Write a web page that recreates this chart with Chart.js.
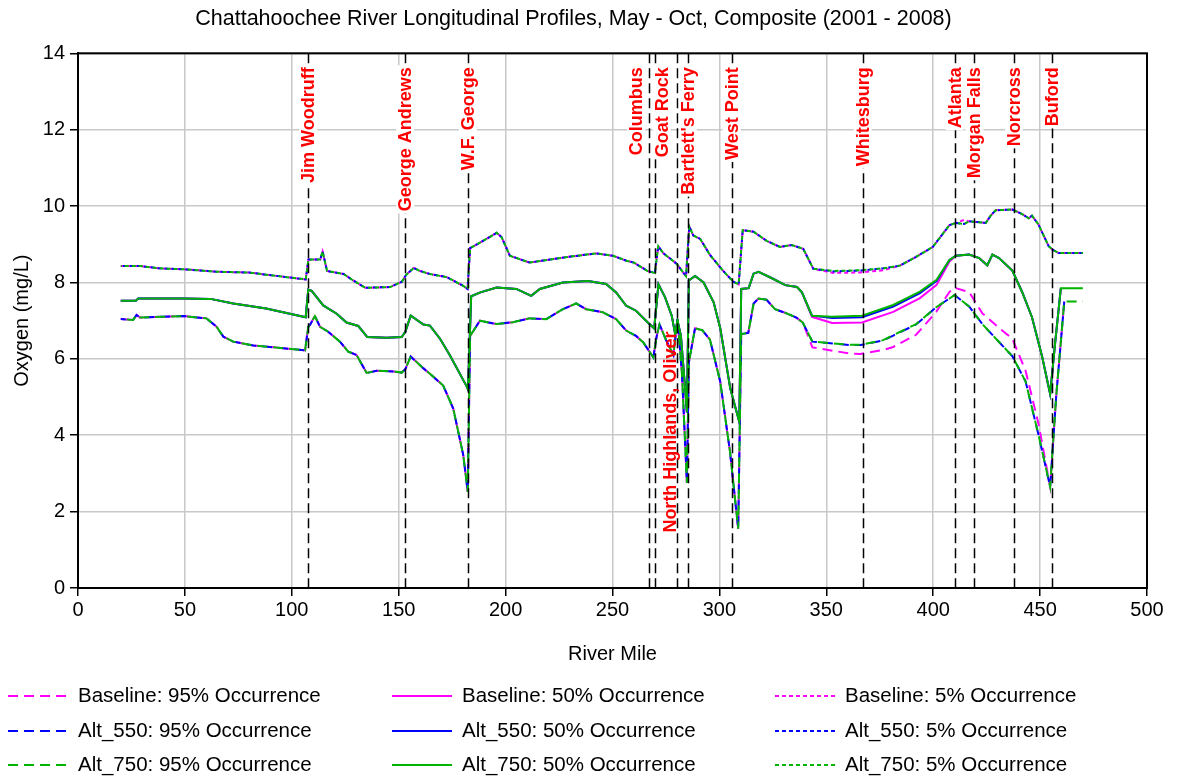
<!DOCTYPE html>
<html>
<head>
<meta charset="utf-8">
<script src="https://cdn.jsdelivr.net/npm/chart.js@4.4.0/dist/chart.umd.min.js"></script>
<style>
  html, body { margin: 0; padding: 0; background: #fff; }
</style>
</head>
<body>
<canvas id="profileChart" width="1177" height="780"></canvas>
<script>
// river miles and dissolved oxygen (mg/L)
const miles5 = [20, 29, 38, 51, 65, 80, 96, 106.5, 107.8, 113.3, 114.4, 116.5, 124.3, 128.2, 134.4, 146,
    151.5, 153.5, 157, 160, 164.6, 172.5, 180.2, 182.2, 183.4, 188, 191, 195.8, 198.1, 202, 211.2, 226.8,
    242.4, 250.2, 256.5, 260, 266.4, 269.8, 271.4, 273.7, 280, 284.4, 285.9, 287.8, 291, 295.6, 301.8, 306.5,
    309, 310.9, 315.9, 322.1, 328.3, 333.8, 339.2, 343.9, 353.3, 365.7, 376.6, 384.4, 392, 399.8, 407.6, 410.6,
    414.5, 416.8, 424.6, 426.9, 429.2, 437, 441.6, 444.7, 446.2, 449.3, 454, 455.8, 458.6, 470];
const alt750_5 = [8.43, 8.43, 8.37, 8.34, 8.28, 8.26, 8.15, 8.08, 8.6, 8.6, 8.81, 8.3, 8.22, 8.07, 7.86, 7.88,
    8.02, 8.2, 8.38, 8.3, 8.22, 8.14, 7.91, 7.83, 8.9, 9.04, 9.14, 9.3, 9.19, 8.7, 8.52, 8.65,
    8.76, 8.7, 8.57, 8.52, 8.3, 8.25, 8.95, 8.77, 8.49, 8.16, 9.47, 9.23, 9.14, 8.72, 8.3, 8.02,
    7.95, 9.37, 9.33, 9.09, 8.93, 8.98, 8.88, 8.36, 8.3, 8.32, 8.37, 8.44, 8.67, 8.93, 9.5, 9.56,
    9.53, 9.6, 9.56, 9.75, 9.89, 9.91, 9.79, 9.68, 9.75, 9.51, 8.95, 8.86, 8.77, 8.77];
const alt550_5 = [8.43, 8.43, 8.37, 8.34, 8.28, 8.26, 8.15, 8.08, 8.6, 8.6, 8.81, 8.3, 8.22, 8.07, 7.86, 7.88,
    8.02, 8.2, 8.38, 8.3, 8.22, 8.14, 7.91, 7.83, 8.9, 9.04, 9.14, 9.3, 9.19, 8.7, 8.52, 8.65,
    8.76, 8.7, 8.57, 8.52, 8.3, 8.25, 8.95, 8.77, 8.49, 8.16, 9.47, 9.23, 9.14, 8.72, 8.3, 8.02,
    7.95, 9.37, 9.33, 9.09, 8.93, 8.98, 8.88, 8.36, 8.29, 8.31, 8.37, 8.44, 8.67, 8.93, 9.5, 9.56,
    9.53, 9.6, 9.56, 9.75, 9.89, 9.91, 9.79, 9.68, 9.75, 9.51, 8.95, 8.86, 8.77, 8.77];
const base_5 = [8.43, 8.43, 8.37, 8.34, 8.28, 8.26, 8.15, 8.08, 8.6, 8.6, 8.81, 8.3, 8.22, 8.07, 7.86, 7.88,
    8.02, 8.2, 8.38, 8.3, 8.22, 8.14, 7.91, 7.83, 8.9, 9.04, 9.14, 9.3, 9.19, 8.7, 8.52, 8.65,
    8.76, 8.7, 8.57, 8.52, 8.3, 8.25, 8.95, 8.77, 8.49, 8.16, 9.47, 9.23, 9.14, 8.72, 8.3, 8.02,
    7.95, 9.37, 9.33, 9.09, 8.93, 8.98, 8.88, 8.36, 8.25, 8.26, 8.32, 8.44, 8.67, 8.93, 9.5, 9.56,
    9.64, 9.6, 9.56, 9.75, 9.89, 9.91, 9.79, 9.68, 9.75, 9.51, 8.95, 8.86, 8.77, 8.77];

const miles50 = [20, 27, 28.2, 38, 49, 62, 72.6, 88, 106.5, 107.7, 109.3, 114.7, 121, 125.6, 131.1, 135.3,
    144.4, 151.4, 153.1, 155.6, 161.6, 164.6, 169.4, 174, 181.6, 182.4, 183.9, 188.2, 195.8, 205, 212, 216,
    226.8, 238.5, 247, 251.7, 256.4, 261, 266.4, 269.5, 271.5, 274.6, 277.7, 279.3, 280.4, 282, 284, 284.8,
    285.7, 288.6, 292.6, 297.3, 300.4, 305.1, 309.3, 310.2, 313.7, 316, 318.3, 324.6, 330.8, 336.3, 338.6, 343.3,
    352.7, 366.7, 381.3, 393.8, 401.6, 407.6, 410.6, 416.8, 421.5, 425.3, 427.7, 430.8, 437, 441.6, 446.2, 450.9,
    454.7, 457, 459.7, 470];
const alt750_50 = [7.52, 7.52, 7.58, 7.58, 7.58, 7.57, 7.45, 7.32, 7.09, 7.81, 7.78, 7.4, 7.18, 6.95, 6.86, 6.57,
    6.55, 6.57, 6.71, 7.13, 6.9, 6.87, 6.52, 6.09, 5.3, 5.2, 7.64, 7.74, 7.87, 7.83, 7.65, 7.83,
    8.0, 8.04, 7.96, 7.74, 7.39, 7.26, 6.96, 6.8, 7.95, 7.61, 7.13, 6.65, 7.0, 6.6, 5.2, 4.6,
    8.05, 8.17, 8.0, 7.48, 6.8, 5.22, 4.35, 7.83, 7.85, 8.23, 8.28, 8.11, 7.93, 7.88, 7.74, 7.13,
    7.1, 7.13, 7.41, 7.76, 8.07, 8.59, 8.7, 8.73, 8.64, 8.45, 8.73, 8.64, 8.31, 7.75, 7.09, 6.07,
    5.08, 6.4, 7.85, 7.85];
const alt550_50 = [7.52, 7.52, 7.58, 7.58, 7.58, 7.57, 7.45, 7.32, 7.09, 7.81, 7.78, 7.4, 7.18, 6.95, 6.86, 6.57,
    6.55, 6.57, 6.71, 7.13, 6.9, 6.87, 6.52, 6.09, 5.3, 5.2, 7.64, 7.74, 7.87, 7.83, 7.65, 7.83,
    8.0, 8.04, 7.96, 7.74, 7.39, 7.26, 6.96, 6.8, 7.95, 7.61, 7.13, 6.65, 7.0, 6.6, 5.2, 4.6,
    8.05, 8.17, 8.0, 7.48, 6.8, 5.22, 4.35, 7.83, 7.85, 8.23, 8.28, 8.11, 7.93, 7.88, 7.74, 7.13,
    7.07, 7.09, 7.37, 7.72, 8.04, 8.59, 8.7, 8.73, 8.64, 8.45, 8.73, 8.64, 8.31, 7.75, 7.09, 6.07,
    5.08, 6.4, 7.85, null];
const base_50 = [7.52, 7.52, 7.58, 7.58, 7.58, 7.57, 7.45, 7.32, 7.09, 7.81, 7.78, 7.4, 7.18, 6.95, 6.86, 6.57,
    6.55, 6.57, 6.71, 7.13, 6.9, 6.87, 6.52, 6.09, 5.3, 5.2, 7.64, 7.74, 7.87, 7.83, 7.65, 7.83,
    8.0, 8.04, 7.96, 7.74, 7.39, 7.26, 6.96, 6.8, 7.95, 7.61, 7.13, 6.65, 7.0, 6.6, 5.2, 4.6,
    8.05, 8.17, 8.0, 7.48, 6.8, 5.22, 4.35, 7.83, 7.85, 8.23, 8.28, 8.11, 7.93, 7.88, 7.74, 7.1,
    6.94, 6.95, 7.23, 7.59, 7.94, 8.55, 8.7, 8.73, 8.64, 8.45, 8.73, 8.64, 8.31, 7.75, 7.09, 6.07,
    5.08, 6.4, 7.85, null];

const miles95 = [20, 25.8, 27.4, 29, 38.4, 49.2, 60.1, 64.8, 68, 72.6, 82, 96, 106.2, 107.7, 108.5, 110.8,
    113.2, 117, 122.5, 126.4, 130.3, 135, 139.7, 147.5, 151.4, 153.1, 155.6, 161.6, 164.6, 170.8, 175.5, 180.2,
    182.3, 183.4, 188, 195.8, 203.4, 211.2, 219, 226.8, 233, 237.7, 245.5, 251.7, 256.4, 261, 264.4, 269.1,
    270.7, 272, 275, 278.5, 280.4, 282.5, 284.8, 285.7, 288.6, 292, 295.6, 300.4, 305, 308.8, 310.2, 313.5,
    316, 318.3, 322, 326, 331, 336, 339, 343.5, 361, 366, 376.6, 381.3, 392, 401.4, 407.6, 410,
    416.8, 423, 430.8, 437, 443.2, 449.3, 454.7, 457.5, 461.3, 470];
const alt750_95 = [7.04, 7.02, 7.15, 7.08, 7.1, 7.12, 7.06, 6.84, 6.58, 6.45, 6.35, 6.28, 6.22, 6.84, 6.89, 7.12,
    6.84, 6.71, 6.45, 6.19, 6.1, 5.63, 5.69, 5.67, 5.64, 5.73, 6.06, 5.75, 5.61, 5.3, 4.7, 3.48,
    2.52, 6.6, 7.0, 6.91, 6.96, 7.06, 7.04, 7.3, 7.45, 7.3, 7.22, 7.04, 6.74, 6.6, 6.43, 6.04,
    6.6, 6.9, 6.5, 6.1, 7.05, 5.6, 2.75, 5.9, 6.8, 6.75, 6.5, 5.4, 3.55, 1.55, 6.65, 6.68,
    7.45, 7.58, 7.55, 7.3, 7.2, 7.08, 6.95, 6.45, 6.37, 6.37, 6.49, 6.62, 6.91, 7.35, 7.58, 7.67,
    7.37, 6.91, 6.44, 6.07, 5.41, 4.0, 2.65, 5.0, 7.5, 7.5];
const alt550_95 = [7.04, 7.02, 7.15, 7.08, 7.1, 7.12, 7.06, 6.84, 6.58, 6.45, 6.35, 6.28, 6.22, 6.84, 6.89, 7.12,
    6.84, 6.71, 6.45, 6.19, 6.1, 5.63, 5.69, 5.67, 5.64, 5.73, 6.06, 5.75, 5.61, 5.3, 4.7, 3.48,
    2.52, 6.6, 7.0, 6.91, 6.96, 7.06, 7.04, 7.3, 7.45, 7.3, 7.22, 7.04, 6.74, 6.6, 6.43, 6.04,
    6.6, 6.9, 6.5, 6.1, 7.05, 5.6, 2.75, 5.9, 6.8, 6.75, 6.5, 5.4, 3.55, 1.55, 6.65, 6.68,
    7.45, 7.58, 7.55, 7.3, 7.2, 7.08, 6.95, 6.45, 6.36, 6.36, 6.48, 6.61, 6.9, 7.35, 7.58, 7.67,
    7.37, 6.91, 6.44, 6.07, 5.41, 4.0, 2.65, 5.0, 7.5, null];
const base_95 = [7.04, 7.02, 7.15, 7.08, 7.1, 7.12, 7.06, 6.84, 6.58, 6.45, 6.35, 6.28, 6.22, 6.84, 6.89, 7.12,
    6.84, 6.71, 6.45, 6.19, 6.1, 5.63, 5.69, 5.67, 5.64, 5.73, 6.06, 5.75, 5.61, 5.3, 4.7, 3.48,
    2.52, 6.6, 7.0, 6.91, 6.96, 7.06, 7.04, 7.3, 7.45, 7.3, 7.22, 7.04, 6.74, 6.6, 6.43, 6.04,
    6.6, 6.9, 6.5, 6.1, 7.05, 5.6, 2.75, 5.9, 6.8, 6.75, 6.5, 5.4, 3.55, 1.55, 6.65, 6.68,
    7.45, 7.58, 7.55, 7.3, 7.2, 7.08, 6.95, 6.3, 6.14, 6.13, 6.23, 6.31, 6.63, 7.23, 7.75, 7.86,
    7.75, 7.19, 6.81, 6.53, 5.69, 4.29, 2.65, 5.0, 7.5, null];

// dams along the river
const damNames = ['Jim Woodruff', 'George Andrews', 'W.F. George', 'Columbus', 'North Highlands, Oliver',
    'Goat Rock', "Bartlett's Ferry", 'West Point', 'Whitesburg', 'Atlanta', 'Morgan Falls', 'Norcross', 'Buford'];
const damMiles = [107.7, 153.1, 182.3, 267.2, 269.9, 280, 285.2, 305.7, 367, 410, 419.3, 437.8, 455.4];

const FONT = "'Liberation Sans', Arial, sans-serif";

function toPoints(miles, values) {
    return miles.map((m, i) => ({ x: m, y: values[i] }));
}

const scenarios = [
    { name: 'Baseline', color: '#ff00ff', order: 2, offset: 0, data: [base_95, base_50, base_5] },
    { name: 'Alt_550', color: '#0000ff', order: 1, offset: 5, data: [alt550_95, alt550_50, alt550_5] },
    { name: 'Alt_750', color: '#00b400', order: 0, offset: 10, data: [alt750_95, alt750_50, alt750_5] }
];
const occurrence = ['95%', '50%', '5%'];
const occMiles = [miles95, miles50, miles5];
const occDash = [[10, 6], [], [4, 3]];

const datasets = [];
scenarios.forEach(s => {
    occurrence.forEach((occ, k) => {
        datasets.push({
            label: s.name + ': ' + occ + ' Occurrence',
            data: toPoints(occMiles[k], s.data[k]),
            borderColor: s.color,
            backgroundColor: s.color,
            borderWidth: 2,
            borderDash: occDash[k],
            borderDashOffset: s.offset,
            pointRadius: 0,
            tension: 0,
            fill: false,
            order: s.order
        });
    });
});

const damPlugin = {
    id: 'dams',
    afterDatasetsDraw(chart) {
        const { ctx, chartArea, scales } = chart;
        const shift = { 'Columbus': -13, 'Goat Rock': -15, 'North Highlands, Oliver': 15 };
        ctx.save();
        ctx.strokeStyle = '#000';
        ctx.lineWidth = 1.5;
        ctx.setLineDash([10, 5]);
        damMiles.forEach(m => {
            const x = Math.round(scales.x.getPixelForValue(m)) + 0.5;
            ctx.beginPath();
            ctx.moveTo(x, chartArea.top);
            ctx.lineTo(x, chartArea.bottom);
            ctx.stroke();
        });
        ctx.setLineDash([]);
        ctx.font = 'bold 18px ' + FONT;
        ctx.textBaseline = 'middle';
        damNames.forEach((name, i) => {
            const x = scales.x.getPixelForValue(damMiles[i]) + (shift[name] || 0);
            const w = ctx.measureText(name).width;
            ctx.save();
            if (name === 'North Highlands, Oliver') {
                ctx.translate(x, scales.y.getPixelForValue(1.45));
                ctx.rotate(-Math.PI / 2);
                ctx.textAlign = 'left';
                ctx.fillStyle = '#ff0000';
                ctx.fillText(name, 0, 1);
            } else {
                ctx.translate(x, chartArea.top + 14);
                ctx.rotate(-Math.PI / 2);
                ctx.textAlign = 'right';
                ctx.fillStyle = '#fff';
                ctx.fillRect(-w - 2, -9, w + 4, 18);
                ctx.fillStyle = '#ff0000';
                ctx.fillText(name, 0, 1);
            }
            ctx.restore();
        });
        // plot frame
        ctx.strokeStyle = '#000';
        ctx.lineWidth = 2;
        ctx.strokeRect(chartArea.left, chartArea.top, chartArea.right - chartArea.left, chartArea.bottom - chartArea.top);
        ctx.restore();
    }
};

const legendPlugin = {
    id: 'gridLegend',
    afterDraw(chart) {
        const ctx = chart.ctx;
        const colX = [8, 392, 775];
        const rowY = [696, 731, 765];
        ctx.save();
        ctx.font = '20.5px ' + FONT;
        ctx.textBaseline = 'middle';
        ctx.textAlign = 'left';
        chart.data.datasets.forEach((ds, i) => {
            const x = colX[i % 3];
            const y = rowY[Math.floor(i / 3)];
            ctx.strokeStyle = ds.borderColor;
            ctx.lineWidth = 2;
            ctx.setLineDash(ds.borderDash);
            ctx.beginPath();
            ctx.moveTo(x, y);
            ctx.lineTo(x + 60, y);
            ctx.stroke();
            ctx.setLineDash([]);
            ctx.fillStyle = '#000';
            ctx.fillText(ds.label, x + 70, y);
        });
        ctx.restore();
    }
};

new Chart(document.getElementById('profileChart'), {
    type: 'line',
    data: { datasets: datasets },
    options: {
        responsive: false,
        animation: false,
        layout: { padding: { left: 0, right: 30, top: 0, bottom: 107 } },
        plugins: {
            legend: { display: false },
            tooltip: { enabled: false },
            title: {
                display: true,
                text: 'Chattahoochee River Longitudinal Profiles, May - Oct, Composite (2001 - 2008)',
                color: '#000',
                font: { family: FONT, size: 21.5, weight: 'normal' },
                padding: { top: 6, bottom: 21.5 }
            }
        },
        scales: {
            x: {
                type: 'linear',
                min: 0,
                max: 500,
                ticks: { stepSize: 50, color: '#000', padding: 2, font: { family: FONT, size: 20 } },
                grid: { color: '#c8c8c8', lineWidth: 1.5, tickColor: '#000', tickLength: 8 },
                border: { color: '#000', width: 2 },
                title: { display: true, text: 'River Mile', color: '#000', font: { family: FONT, size: 20 }, padding: { top: 0, bottom: 7 } },
                afterFit: scale => { scale.height = 85; }
            },
            y: {
                min: 0,
                max: 14,
                ticks: { stepSize: 2, color: '#000', padding: 5, font: { family: FONT, size: 20 } },
                grid: { color: '#c8c8c8', lineWidth: 1.5, tickColor: '#000', tickLength: 8 },
                border: { color: '#000', width: 2 },
                title: { display: true, text: 'Oxygen (mg/L)', color: '#000', font: { family: FONT, size: 20 }, padding: { top: 10, bottom: 0 } },
                afterFit: scale => { scale.width = 78; }
            }
        }
    },
    plugins: [damPlugin, legendPlugin]
});
</script>
</body>
</html>
